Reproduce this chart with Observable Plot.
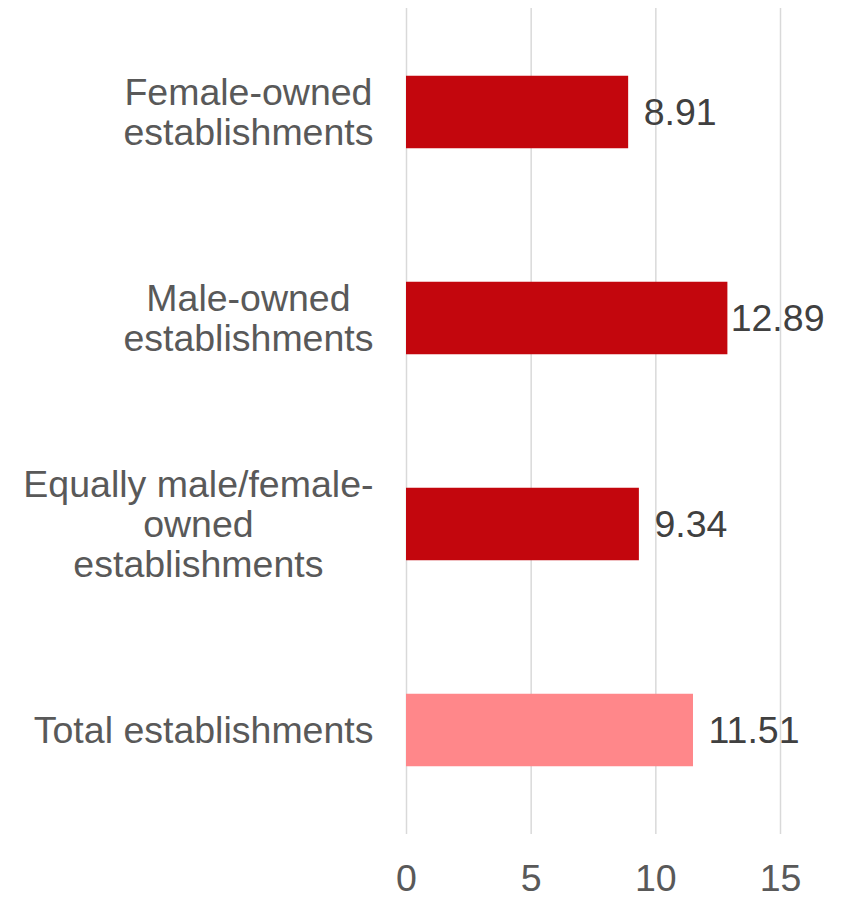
<!DOCTYPE html>
<html>
<head>
<meta charset="utf-8">
<script src="https://cdn.jsdelivr.net/npm/d3@7"></script>
<script src="https://cdn.jsdelivr.net/npm/@observablehq/plot@0.6"></script>
<style>
  html, body { margin: 0; padding: 0; background: #fff; }
  #chart { width: 846px; height: 898px; }
</style>
</head>
<body>
<div id="chart"></div>
<script>
// Data
const categories = [
  "Female-owned\nestablishments",
  "Male-owned\nestablishments",
  "Equally male/female-\nowned\nestablishments",
  "Total establishments"
];
const values = [8.91, 12.89, 9.34, 11.51];
const isTotal = [false, false, false, true];
const xTicks = [0, 5, 10, 15];

const data = categories.map((c, i) => ({category: c, value: values[i], total: isTotal[i]}));

const W = 846, H = 898;
const marginLeft = 406, marginRight = 66, marginTop = 8, marginBottom = 64;
const fontSize = 37.5;
const fontFamily = "'Liberation Sans', Arial, sans-serif";

// measure text widths (for centering multi-line labels and keeping value labels inside)
const ctx = document.createElement("canvas").getContext("2d");
ctx.font = `${fontSize}px ${fontFamily}`;
const textWidth = s => ctx.measureText(s).width;
const blockWidth = s => Math.max(...s.split("\n").map(textWidth));
const pxPerUnit = (W - marginLeft - marginRight) / (xTicks[xTicks.length - 1] - xTicks[0]);
const labelGap = 33;
const valueGap = 15;
const valueRightLimit = W - 22; // value labels kept inside the chart area (as in Excel)

const bandStep = (H - marginTop - marginBottom) / categories.length;
const barH = 73;
const inset = (bandStep - barH) / 2;

const fmt = v => v.toFixed(2);

const chart = Plot.plot({
  width: W,
  height: H,
  marginLeft, marginRight, marginTop, marginBottom,
  style: {fontFamily, fontSize: `${fontSize}px`, background: "#fff"},
  x: {domain: [0, 15], ticks: xTicks, tickSize: 0, tickPadding: 30, label: null},
  y: {domain: categories, padding: 0, axis: null},
  marks: [
    Plot.ruleX(xTicks, {stroke: "#d9d9d9", strokeWidth: 1.5}),
    Plot.barX(data, {
      x: "value", y: "category",
      fill: d => d.total ? "#ff878a" : "#c3060d",
      insetTop: inset, insetBottom: inset
    }),
    Plot.text(data, {
      x: d => Math.min(d.value + valueGap / pxPerUnit,
                       (valueRightLimit - marginLeft - textWidth(fmt(d.value))) / pxPerUnit),
      y: "category",
      text: d => fmt(d.value),
      textAnchor: "start",
      fill: "#404040", fontSize
    }),
    Plot.text(data, {
      x: d => -(labelGap + blockWidth(d.category) / 2) / pxPerUnit,
      y: "category",
      text: "category",
      textAnchor: "middle", lineAnchor: "middle", lineHeight: 1.07,
      fill: "#595959", fontSize
    }),
    Plot.axisX({ticks: xTicks, tickSize: 0, tickPadding: 30, fill: "#595959", fontSize, label: null})
  ]
});
document.getElementById("chart").appendChild(chart);
</script>
</body>
</html>
